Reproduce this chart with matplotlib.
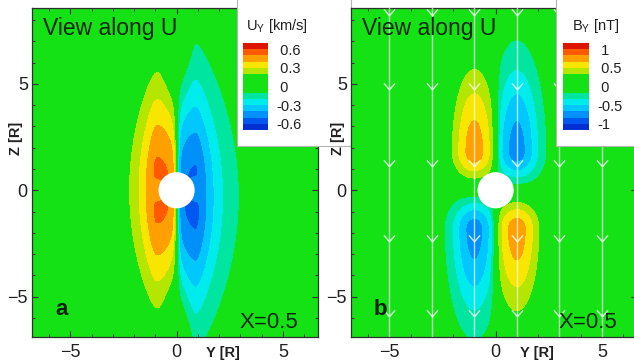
import numpy as np
import matplotlib
matplotlib.use('Agg')
import matplotlib.pyplot as plt
from matplotlib.patches import Circle, Rectangle
from matplotlib.path import Path
from matplotlib.ticker import MultipleLocator

plt.rcParams['font.family'] = ['Liberation Sans', 'DejaVu Sans']

# ---- values ----
levels_a = [-0.7, -0.6, -0.5, -0.4, -0.3, -0.2, -0.1, 0.0, 0.1, 0.2, 0.3, 0.4, 0.5, 0.6, 0.7]
ticks_a = [0.6, 0.3, 0.0, -0.3, -0.6]
ticklabels_a = ['0.6', '0.3', '0', '-0.3', '-0.6']

levels_b = [-7/6, -1.0, -5/6, -2/3, -0.5, -1/3, -1/6, 0.0, 1/6, 1/3, 0.5, 2/3, 5/6, 1.0, 7/6]
ticks_b = [1.0, 0.5, 0.0, -0.5, -1.0]
ticklabels_b = ['1', '0.5', '0', '-0.5', '-1']

band_colors = ['#0030d2', '#0058f0', '#0090fa', '#00c8ff', '#00ebeb', '#00e6a0',
               '#14e214', '#14e214', '#14e214', '#b4e600', '#f8e600', '#ffa000',
               '#ff5a00', '#dc1400']

# U_Y lobes (panel a): peak, ridge position, falloffs, height
uy_peak = 0.54
uy_ridge = 0.9
uy_inner = 2.2
uy_round = 0.3
uy_width = 1.05
uy_zwidth = 5.55
uy_zshift_neg = -0.3
uy_dip = 0.15

# B_Y lobes (panel b): four lobes, one per quadrant
by_peak = 0.75
by_yc = 1.0
by_yw = 1.15
by_zc = 1.8
by_zw_in = 1.4
by_zw_out = 4.3

# field lines seen in panel b
stream_y = [-5, -3, -1, 1, 3, 5]
arrow_z = [8.35, 4.85, 1.25, -2.3, -5.8]

body_radius = 0.85
y_lim = (-6.8, 6.65)
z_lim = (-6.9, 8.57)

# ---- fields ----
yy, zz = np.meshgrid(np.linspace(-7.2, 7.2, 577), np.linspace(-7.4, 9.0, 657))
ay = np.abs(yy)
az = np.abs(zz)

d = ay - uy_ridge
s_in = uy_inner * np.exp(-(zz / 5.0) ** 2)
d_out = np.clip(d, 0, None)
fy = np.where(d > 0,
              np.exp(-(np.sqrt(uy_round ** 2 + d_out ** 2) - uy_round) / uy_width),
              np.exp(-(np.clip(-d, 0, None) / s_in) ** 2))
zshift = np.where(yy > 0, uy_zshift_neg, 0.0)
gz = np.exp(-((zz - zshift) / uy_zwidth) ** 2)
dip = 1 - uy_dip * np.exp(-(zz / 0.6) ** 2 - ((ay - 0.9) / 0.35) ** 2)
U = -uy_peak * np.tanh(yy / 0.12) * fy * gz * dip

hy = np.exp(-((ay - by_yc) / by_yw) ** 2)
zw = np.where(az < by_zc, by_zw_in, by_zw_out)
hz = np.exp(-((az - by_zc) / zw) ** 2)
B = -by_peak * np.tanh(yy / 0.15) * np.tanh(zz / 0.3) * hy * hz

# ---- figure ----
W, H = 634, 363
fig = plt.figure(figsize=(W / 100, H / 100), dpi=100)


def px_axes(l, t, r, b):
    return fig.add_axes([l / W, 1 - b / H, (r - l) / W, (b - t) / H])


def setup_axes(ax, ylab_x, xlab_x, tag):
    ax.set_xlim(*y_lim)
    ax.set_ylim(*z_lim)
    ax.xaxis.set_major_locator(MultipleLocator(5))
    ax.yaxis.set_major_locator(MultipleLocator(5))
    ax.xaxis.set_minor_locator(MultipleLocator(1))
    ax.yaxis.set_minor_locator(MultipleLocator(1))
    ax.tick_params(which='both', direction='in', top=True, right=True,
                   color='#303030', labelsize=13, labelcolor='#202020')
    ax.tick_params(which='major', length=4.5, width=0.8)
    ax.tick_params(which='minor', length=2.2, width=0.7)
    ax.tick_params(axis='x', pad=5)
    ax.tick_params(axis='y', pad=3)
    for s in ax.spines.values():
        s.set_color('#303030')
        s.set_linewidth(0.9)
    ax.add_patch(Circle((0, 0), body_radius, facecolor='white', edgecolor='none', zorder=4))
    ax.text(ylab_x, 0.605, 'Z [R]', transform=ax.transAxes, rotation=90,
            ha='center', va='center', fontsize=10.5, fontweight='bold', color='#202020')
    ax.text(xlab_x, -0.026, 'Y [R]', transform=ax.transAxes,
            ha='center', va='top', fontsize=10.5, fontweight='bold', color='#202020')
    ax.text(0.0385, 0.918, 'View along U', transform=ax.transAxes, ha='left',
            va='baseline', fontsize=16.5, color='#0c260c', zorder=7)
    ax.text(0.08, 0.067, tag, transform=ax.transAxes, ha='left', va='baseline',
            fontsize=16, fontweight='bold', color='#0c200c', zorder=7)
    ax.text(0.93, 0.027, 'X=0.5', transform=ax.transAxes, ha='right', va='baseline',
            fontsize=16, color='#0c260c', zorder=7)


def add_legend(ax, cs, cax_box, ticks, labels, title):
    ax.add_patch(Rectangle((0.717, 0.582), 0.4, 0.5, transform=ax.transAxes,
                           facecolor='white', edgecolor='#b4b4b4', lw=0.8,
                           zorder=6, clip_on=False))
    ax.text(0.857, 0.932, title, transform=ax.transAxes, ha='center',
            va='baseline', fontsize=10.5, color='#202020', zorder=7)
    cax = px_axes(*cax_box)
    cb = fig.colorbar(cs, cax=cax, ticks=ticks)
    cb.outline.set_visible(False)
    cb.set_ticklabels([t if t.startswith('-') else ' ' + t for t in labels])
    cax.tick_params(length=0, labelsize=10.5, pad=6, labelcolor='#202020')


ax_a = px_axes(32, 8, 318, 337)
cs_a = ax_a.contourf(yy, zz, U, levels=levels_a, colors=band_colors, zorder=1)
setup_axes(ax_a, -0.056, 0.668, 'a')
add_legend(ax_a, cs_a, (243, 43, 268, 130), ticks_a, ticklabels_a,
           r'U$_\mathregular{Y}$ [km/s]')

ax_b = px_axes(351, 8, 637, 337)
cs_b = ax_b.contourf(yy, zz, B, levels=levels_b, colors=band_colors, zorder=1)
setup_axes(ax_b, -0.045, 0.65, 'b')

chevron = Path([(-0.6, 0.45), (0, -0.25), (0.6, 0.45)],
               [Path.MOVETO, Path.LINETO, Path.LINETO])
for y in stream_y:
    ax_b.plot([y, y], z_lim, color='white', alpha=0.7, lw=1.0, zorder=3)
    ax_b.plot([y] * len(arrow_z), arrow_z, ls='none', marker=chevron, ms=8,
              mfc='none', mec='white', mew=1.0, alpha=0.8, zorder=3)

add_legend(ax_b, cs_b, (563, 43, 589, 130), ticks_b, ticklabels_b,
           r'B$_\mathregular{Y}$ [nT]')

fig.savefig('out.png', dpi=100)
